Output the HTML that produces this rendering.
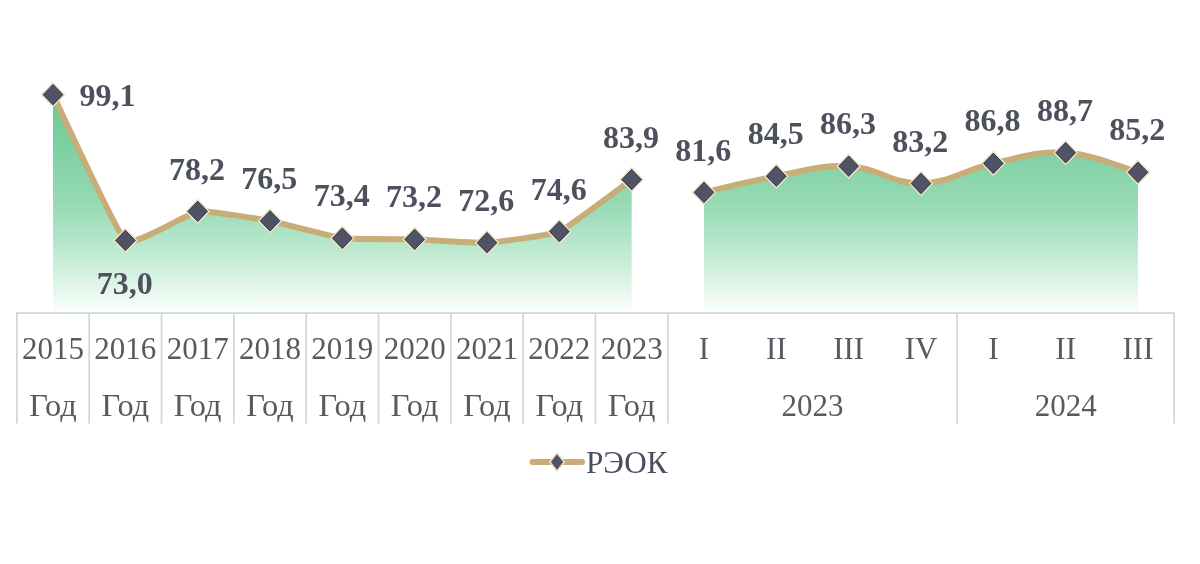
<!DOCTYPE html><html><head><meta charset="utf-8"><style>html,body{margin:0;padding:0;background:#fff;width:1200px;height:564px;overflow:hidden}:root{--bl:0.6px}svg{display:block;filter:blur(var(--bl,0px))}</style></head><body>
<svg width="1200" height="564" viewBox="0 0 1200 564">
<defs><linearGradient id="g" gradientUnits="userSpaceOnUse" x1="0" y1="94" x2="0" y2="316"><stop offset="0" stop-color="#69c890"/><stop offset="0.48" stop-color="#94d9b2"/><stop offset="0.7" stop-color="#bce9cf"/><stop offset="0.88" stop-color="#e4f6ec"/><stop offset="1" stop-color="#ffffff"/></linearGradient></defs>
<path d="M53.03,94.66 C57.37,103.41 116.68,233.47 125.36,240.47 C134.04,247.48 189.01,212.59 197.69,211.42 C206.37,210.25 261.34,219.31 270.02,220.92 C278.70,222.53 333.67,237.13 342.35,238.24 C351.03,239.34 406.00,239.09 414.68,239.35 C423.36,239.62 478.33,243.17 487.01,242.71 C495.69,242.24 550.66,235.32 559.34,231.53 C568.02,227.74 627.33,182.69 631.67,179.58 L631.67,313.20 L53.03,313.20 Z" fill="url(#g)"/>
<path d="M704.00,192.43 C718.47,189.18 747.40,181.48 776.33,176.22 C805.26,170.97 819.73,164.72 848.66,166.17 C877.59,167.62 892.06,184.05 920.99,183.49 C949.92,182.93 964.39,169.52 993.32,163.37 C1022.25,157.23 1036.72,150.97 1065.65,152.76 C1094.58,154.55 1123.51,168.40 1137.98,172.31 L1137.98,313.20 L704.00,313.20 Z" fill="url(#g)"/>
<g stroke="#d5d5d5" stroke-width="1.8" fill="none">
<line x1="15.97" y1="313.2" x2="1175.05" y2="313.2"/>
<line x1="16.87" y1="313.2" x2="16.87" y2="423.5"/>
<line x1="89.19" y1="313.2" x2="89.19" y2="423.5"/>
<line x1="161.53" y1="313.2" x2="161.53" y2="423.5"/>
<line x1="233.86" y1="313.2" x2="233.86" y2="423.5"/>
<line x1="306.19" y1="313.2" x2="306.19" y2="423.5"/>
<line x1="378.51" y1="313.2" x2="378.51" y2="423.5"/>
<line x1="450.85" y1="313.2" x2="450.85" y2="423.5"/>
<line x1="523.17" y1="313.2" x2="523.17" y2="423.5"/>
<line x1="595.50" y1="313.2" x2="595.50" y2="423.5"/>
<line x1="667.84" y1="313.2" x2="667.84" y2="423.5"/>
<line x1="957.15" y1="313.2" x2="957.15" y2="423.5"/>
<line x1="1174.14" y1="313.2" x2="1174.14" y2="423.5"/>
</g>
<g fill="none" stroke="#c9ad78" stroke-width="6.0" stroke-linejoin="round" stroke-linecap="round">
<path d="M53.03,94.66 C57.37,103.41 116.68,233.47 125.36,240.47 C134.04,247.48 189.01,212.59 197.69,211.42 C206.37,210.25 261.34,219.31 270.02,220.92 C278.70,222.53 333.67,237.13 342.35,238.24 C351.03,239.34 406.00,239.09 414.68,239.35 C423.36,239.62 478.33,243.17 487.01,242.71 C495.69,242.24 550.66,235.32 559.34,231.53 C568.02,227.74 627.33,182.69 631.67,179.58"/><path d="M704.00,192.43 C718.47,189.18 747.40,181.48 776.33,176.22 C805.26,170.97 819.73,164.72 848.66,166.17 C877.59,167.62 892.06,184.05 920.99,183.49 C949.92,182.93 964.39,169.52 993.32,163.37 C1022.25,157.23 1036.72,150.97 1065.65,152.76 C1094.58,154.55 1123.51,168.40 1137.98,172.31"/></g>
<g fill="#505266" stroke="#e9e2c4" stroke-width="1.6">
<path d="M53.03,82.96 L64.33,94.66 L53.03,106.36 L41.73,94.66 Z"/>
<path d="M125.36,228.77 L136.66,240.47 L125.36,252.17 L114.06,240.47 Z"/>
<path d="M197.69,199.72 L208.99,211.42 L197.69,223.12 L186.39,211.42 Z"/>
<path d="M270.02,209.22 L281.32,220.92 L270.02,232.62 L258.72,220.92 Z"/>
<path d="M342.35,226.54 L353.65,238.24 L342.35,249.94 L331.05,238.24 Z"/>
<path d="M414.68,227.65 L425.98,239.35 L414.68,251.05 L403.38,239.35 Z"/>
<path d="M487.01,231.01 L498.31,242.71 L487.01,254.41 L475.71,242.71 Z"/>
<path d="M559.34,219.83 L570.64,231.53 L559.34,243.23 L548.04,231.53 Z"/>
<path d="M631.67,167.88 L642.97,179.58 L631.67,191.28 L620.37,179.58 Z"/>
<path d="M704.00,180.73 L715.30,192.43 L704.00,204.13 L692.70,192.43 Z"/>
<path d="M776.33,164.52 L787.63,176.22 L776.33,187.92 L765.03,176.22 Z"/>
<path d="M848.66,154.47 L859.96,166.17 L848.66,177.87 L837.36,166.17 Z"/>
<path d="M920.99,171.79 L932.29,183.49 L920.99,195.19 L909.69,183.49 Z"/>
<path d="M993.32,151.67 L1004.62,163.37 L993.32,175.07 L982.02,163.37 Z"/>
<path d="M1065.65,141.06 L1076.95,152.76 L1065.65,164.46 L1054.35,152.76 Z"/>
<path d="M1137.98,160.61 L1149.28,172.31 L1137.98,184.01 L1126.68,172.31 Z"/>
</g>
<g fill="none" stroke="#3f404e" stroke-width="1.0">
<path d="M53.03,84.56 L62.73,94.66 L53.03,104.76 L43.33,94.66 Z"/>
<path d="M125.36,230.37 L135.06,240.47 L125.36,250.57 L115.66,240.47 Z"/>
<path d="M197.69,201.32 L207.39,211.42 L197.69,221.52 L187.99,211.42 Z"/>
<path d="M270.02,210.82 L279.72,220.92 L270.02,231.02 L260.32,220.92 Z"/>
<path d="M342.35,228.14 L352.05,238.24 L342.35,248.34 L332.65,238.24 Z"/>
<path d="M414.68,229.25 L424.38,239.35 L414.68,249.45 L404.98,239.35 Z"/>
<path d="M487.01,232.61 L496.71,242.71 L487.01,252.81 L477.31,242.71 Z"/>
<path d="M559.34,221.43 L569.04,231.53 L559.34,241.63 L549.64,231.53 Z"/>
<path d="M631.67,169.48 L641.37,179.58 L631.67,189.68 L621.97,179.58 Z"/>
<path d="M704.00,182.33 L713.70,192.43 L704.00,202.53 L694.30,192.43 Z"/>
<path d="M776.33,166.12 L786.03,176.22 L776.33,186.32 L766.63,176.22 Z"/>
<path d="M848.66,156.07 L858.36,166.17 L848.66,176.27 L838.96,166.17 Z"/>
<path d="M920.99,173.39 L930.69,183.49 L920.99,193.59 L911.29,183.49 Z"/>
<path d="M993.32,153.27 L1003.02,163.37 L993.32,173.47 L983.62,163.37 Z"/>
<path d="M1065.65,142.66 L1075.35,152.76 L1065.65,162.86 L1055.95,152.76 Z"/>
<path d="M1137.98,162.21 L1147.68,172.31 L1137.98,182.41 L1128.28,172.31 Z"/>
</g>
<g font-family="Liberation Serif, Times New Roman, serif" font-weight="bold" font-size="32" fill="#4d505d">
<text x="79.53" y="105.76">99,1</text>
<text x="124.66" y="293.67" text-anchor="middle">73,0</text>
<text x="196.99" y="179.52" text-anchor="middle">78,2</text>
<text x="269.32" y="189.02" text-anchor="middle">76,5</text>
<text x="341.65" y="206.34" text-anchor="middle">73,4</text>
<text x="413.98" y="207.45" text-anchor="middle">73,2</text>
<text x="486.31" y="210.81" text-anchor="middle">72,6</text>
<text x="558.64" y="199.63" text-anchor="middle">74,6</text>
<text x="630.97" y="147.68" text-anchor="middle">83,9</text>
<text x="703.30" y="160.53" text-anchor="middle">81,6</text>
<text x="775.63" y="144.32" text-anchor="middle">84,5</text>
<text x="847.96" y="134.27" text-anchor="middle">86,3</text>
<text x="920.29" y="151.59" text-anchor="middle">83,2</text>
<text x="992.62" y="131.47" text-anchor="middle">86,8</text>
<text x="1064.95" y="120.86" text-anchor="middle">88,7</text>
<text x="1137.28" y="140.41" text-anchor="middle">85,2</text>
</g>
<g font-family="Liberation Serif, Times New Roman, serif" font-size="31" fill="#585a60" text-anchor="middle">
<text x="53.03" y="358.9">2015</text>
<text x="125.36" y="358.9">2016</text>
<text x="197.69" y="358.9">2017</text>
<text x="270.02" y="358.9">2018</text>
<text x="342.35" y="358.9">2019</text>
<text x="414.68" y="358.9">2020</text>
<text x="487.01" y="358.9">2021</text>
<text x="559.34" y="358.9">2022</text>
<text x="631.67" y="358.9">2023</text>
<text x="704.00" y="358.9">I</text>
<text x="776.33" y="358.9">II</text>
<text x="848.66" y="358.9">III</text>
<text x="920.99" y="358.9">IV</text>
<text x="993.32" y="358.9">I</text>
<text x="1065.65" y="358.9">II</text>
<text x="1137.98" y="358.9">III</text>
<text x="53.03" y="415.5" textLength="47.6" lengthAdjust="spacingAndGlyphs">Год</text>
<text x="125.36" y="415.5" textLength="47.6" lengthAdjust="spacingAndGlyphs">Год</text>
<text x="197.69" y="415.5" textLength="47.6" lengthAdjust="spacingAndGlyphs">Год</text>
<text x="270.02" y="415.5" textLength="47.6" lengthAdjust="spacingAndGlyphs">Год</text>
<text x="342.35" y="415.5" textLength="47.6" lengthAdjust="spacingAndGlyphs">Год</text>
<text x="414.68" y="415.5" textLength="47.6" lengthAdjust="spacingAndGlyphs">Год</text>
<text x="487.01" y="415.5" textLength="47.6" lengthAdjust="spacingAndGlyphs">Год</text>
<text x="559.34" y="415.5" textLength="47.6" lengthAdjust="spacingAndGlyphs">Год</text>
<text x="631.67" y="415.5" textLength="47.6" lengthAdjust="spacingAndGlyphs">Год</text>
<text x="812.50" y="415.5">2023</text>
<text x="1065.65" y="415.5">2024</text>
</g>
<line x1="532.5" y1="462" x2="582" y2="462" stroke="#c9ad78" stroke-width="6" stroke-linecap="round"/>
<path d="M557,453 L564.2,462 L557,471 L549.8,462 Z" fill="#505266" stroke="#e9e2c4" stroke-width="1.6"/>
<text x="586" y="472.5" font-family="Liberation Serif, Times New Roman, serif" font-size="30.5" fill="#4a4e5e" textLength="81.4" lengthAdjust="spacingAndGlyphs">РЭОК</text>
</svg></body></html>
